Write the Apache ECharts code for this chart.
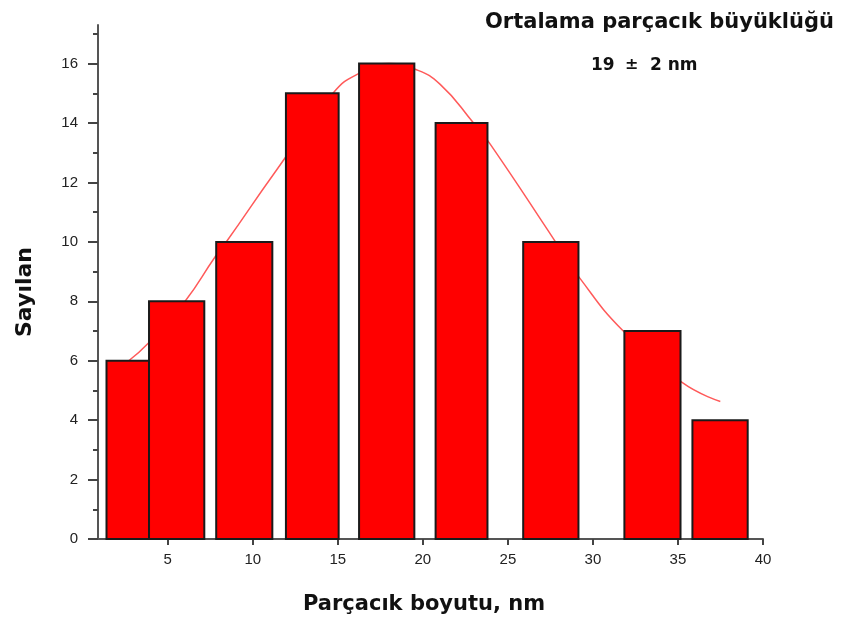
<!DOCTYPE html>
<html>
<head>
    <meta charset="UTF-8">
    <title>Parçacık boyutu dağılımı</title>
    <script src="https://cdn.jsdelivr.net/npm/echarts@6/dist/echarts.min.js"></script>
    <style>
        html, body { margin: 0; padding: 0; background: #fff; }
        #chart { width: 859px; height: 627px; }
    </style>
</head>
<body>
<div id="chart"></div>
<script type="text/javascript">
    // histogram bins (nm) and counts
    var binStart = [1.4, 3.9, 7.85, 11.95, 16.25, 20.75, 25.9, 31.85, 35.85];
    var binEnd = [3.9, 7.15, 11.15, 15.05, 19.5, 23.8, 29.15, 35.15, 39.1];
    var counts = [6, 8, 10, 15, 16, 14, 10, 7, 4];

    // fitted curve
    var fitX = [2.6, 3.96, 6.02, 7.78, 8.47, 11.41, 14.74, 16.31, 18.0, 19.55, 21.02, 22.98, 23.96, 27.78, 29.15, 31.8, 35.24, 37.49];
    var fitY = [5.95, 6.65, 8.0, 9.49, 10.02, 12.43, 15.02, 15.69, 16.0, 15.81, 15.3, 14.0, 13.29, 10.02, 8.84, 6.99, 5.27, 4.63];

    var xTicks = [5, 10, 15, 20, 25, 30, 35, 40];
    var yTicks = [0, 2, 4, 6, 8, 10, 12, 14, 16];
    var yMinorTicks = [1, 3, 5, 7, 9, 11, 13, 15, 17];

    var barData = [];
    for (var i = 0; i < counts.length; i++) {
        barData.push([binStart[i], binEnd[i], counts[i]]);
    }
    var fitData = [];
    for (var j = 0; j < fitX.length; j++) {
        fitData.push([fitX[j], fitY[j]]);
    }

    var myChart = echarts.init(document.getElementById('chart'));
    var boldFont = '"DejaVu Sans", sans-serif';
    var tickFont = '"Liberation Sans", Arial, sans-serif';

    var option = {
        animation: false,
        backgroundColor: '#fff',
        grid: { left: 98, right: 96, top: 25, bottom: 88 },
        xAxis: {
            type: 'value',
            min: 0.9,
            max: 40,
            axisLine: { show: true, lineStyle: { color: '#555', width: 2 } },
            axisTick: { show: true, customValues: xTicks, length: 6, lineStyle: { color: '#444', width: 2 } },
            axisLabel: { customValues: xTicks, margin: 13, fontSize: 15, color: '#222', fontFamily: tickFont },
            splitLine: { show: false }
        },
        yAxis: [
            {
                type: 'value',
                min: 0,
                max: 17.3,
                axisLine: { show: true, lineStyle: { color: '#555', width: 2 } },
                axisTick: { show: true, customValues: yTicks, length: 10, lineStyle: { color: '#444', width: 2 } },
                axisLabel: { customValues: yTicks, margin: 20, fontSize: 15, color: '#222', fontFamily: tickFont },
                splitLine: { show: false }
            },
            {
                // minor ticks only
                type: 'value',
                min: 0,
                max: 17.3,
                position: 'left',
                offset: 0,
                axisLine: { show: false },
                axisTick: { show: true, customValues: yMinorTicks, length: 5, lineStyle: { color: '#444', width: 2 } },
                axisLabel: { show: false },
                splitLine: { show: false }
            }
        ],
        series: [
            {
                type: 'line',
                data: fitData,
                smooth: 0.5,
                showSymbol: false,
                z: 1,
                lineStyle: { color: '#ff5a5a', width: 1.5 }
            },
            {
                type: 'custom',
                z: 3,
                data: barData,
                renderItem: function (params, api) {
                    var p0 = api.coord([api.value(0), api.value(2)]);
                    var p1 = api.coord([api.value(1), 0]);
                    return {
                        type: 'rect',
                        shape: { x: p0[0], y: p0[1], width: p1[0] - p0[0], height: p1[1] - p0[1] },
                        style: { fill: '#ff0000', stroke: '#1a1a1a', lineWidth: 2 }
                    };
                }
            }
        ],
        graphic: [
            {
                type: 'text', left: 485, top: 12,
                style: { text: 'Ortalama parçacık büyüklüğü', font: 'bold 21px ' + boldFont, fill: '#111' }
            },
            {
                type: 'text', left: 591, top: 57,
                style: { text: '19', font: 'bold 17px ' + boldFont, fill: '#111' }
            },
            {
                type: 'text', left: 625, top: 57,
                style: { text: '±', font: 'bold 16px ' + boldFont, fill: '#111' }
            },
            {
                type: 'text', left: 650, top: 57,
                style: { text: '2 nm', font: 'bold 17px ' + boldFont, fill: '#111' }
            },
            {
                type: 'text', left: 303, top: 594,
                style: { text: 'Parçacık boyutu, nm', font: 'bold 21px ' + boldFont, fill: '#111' }
            },
            {
                type: 'text', x: 25, y: 292, rotation: Math.PI / 2,
                style: { text: 'Sayılan', font: 'bold 22px ' + boldFont, fill: '#111', align: 'center', verticalAlign: 'middle' }
            }
        ]
    };
    myChart.setOption(option);
</script>
</body>
</html>
